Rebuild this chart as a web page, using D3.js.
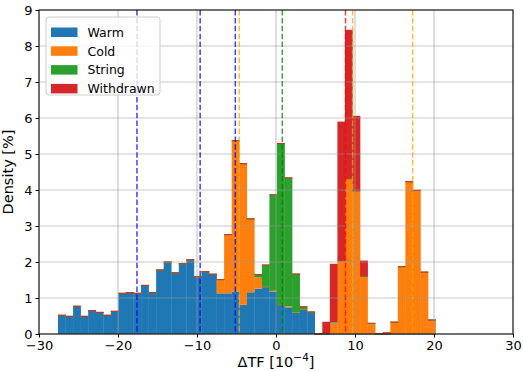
<!DOCTYPE html>
<html>
<head>
<meta charset="utf-8">
<script src="https://cdn.jsdelivr.net/npm/d3@7"></script>
<style>
  body { margin: 0; background: #fff; }
  svg { font-family: "DejaVu Sans", sans-serif; }
</style>
</head>
<body>
<script>

// stacked histogram data, 50 bins (density %)
var binStart = -27.6;
var binWidth = 0.956;

var warm = [0.52, 0.49, 0.77, 0.49, 0.65, 0.60, 0.52, 0.63, 1.13, 1.15,
            1.13, 1.35, 1.15, 1.78, 2.00, 1.70, 1.95, 2.06, 1.59, 1.73,
            1.66, 1.13, 1.13, 1.18, 0.81, 1.16, 1.26, 1.31, 1.17, 0.81,
            0.74, 0.60, 0.68, 0.61, 0, 0, 0, 0, 0, 0,
            0, 0, 0, 0, 0, 0, 0, 0, 0, 0];
var cold = [0, 0, 0, 0, 0, 0, 0, 0, 0, 0,
            0, 0, 0, 0, 0, 0, 0, 0, 0, 0,
            0, 0.38, 1.63, 4.19, 3.92, 2.04, 0.31, 0, 0.03, 0,
            0.03, 0, 0, 0, 0, 0, 0.29, 2.03, 4.31, 3.97,
            1.60, 0.27, 0, 0, 0.33, 1.87, 4.23, 3.99, 1.72, 0.39];
var string = [0, 0, 0, 0, 0, 0, 0, 0, 0, 0,
              0, 0, 0, 0, 0, 0, 0, 0, 0, 0,
              0, 0, 0, 0, 0, 0, 0.08, 0.61, 2.67, 4.48,
              3.57, 1.07, 0.08, 0, 0, 0, 0.03, 0, 0, 0,
              0, 0.03, 0, 0, 0, 0, 0, 0, 0, 0];
var withdrawn = [0, 0, 0, 0, 0, 0, 0, 0, 0, 0,
                 0, 0, 0, 0, 0, 0, 0, 0, 0, 0,
                 0, 0, 0, 0, 0, 0, 0, 0, 0, 0,
                 0, 0, 0, 0, 0, 0.34, 1.63, 3.87, 4.14, 2.09,
                 0.44, 0, 0, 0.05, 0, 0, 0, 0, 0, 0];

var seriesNames = ["Warm", "Cold", "String", "Withdrawn"];
var seriesColors = ["#1f77b4", "#ff7f0e", "#2ca02c", "#d62728"];

// mean lines
var meanValues = [-17.6, -9.6, -5.15, -4.65, 9.7, 17.3, 0.8, 8.8];
var meanColors = ["blue", "blue", "blue", "orange", "orange", "orange", "green", "red"];

var xTicks = [-30, -20, -10, 0, 10, 20, 30];
var yTicks = [0, 1, 2, 3, 4, 5, 6, 7, 8, 9];

var margin = {top: 10, right: 10, bottom: 37, left: 39};
var W = 523, H = 371;
var width = W - margin.left - margin.right,
    height = H - margin.top - margin.bottom;

var x = d3.scaleLinear().domain([-30, 30]).range([0, width]);
var y = d3.scaleLinear().domain([0, 9]).range([height, 0]);

var svg = d3.select("body").append("svg")
    .attr("width", W)
    .attr("height", H)
  .append("g")
    .attr("transform", "translate(" + margin.left + "," + margin.top + ")");

// stack the bins
var rows = warm.map(function(d, i) {
  return {i: i, Warm: warm[i], Cold: cold[i], String: string[i], Withdrawn: withdrawn[i]};
});
var stack = d3.stack().keys(seriesNames)(rows);

stack.forEach(function(layer, k) {
  svg.append("g")
    .selectAll("rect")
    .data(layer)
    .enter()
    .append("rect")
      .attr("x", function(d) { return x(binStart + d.data.i * binWidth); })
      .attr("width", function(d) { return x(binStart + (d.data.i + 1) * binWidth) - x(binStart + d.data.i * binWidth) + 0.3; })
      .attr("y", function(d) {
        var h = y(d[0]) - y(d[1]);
        return h < 1 ? y(d[1]) - 0.5 : y(d[1]);
      })
      .attr("height", function(d) { return Math.max(y(d[0]) - y(d[1]), 1); })
      .style("fill", seriesColors[k]);
});

// grid on top of bars
svg.append("g")
  .selectAll("line")
  .data(xTicks)
  .enter().append("line")
    .attr("x1", function(d) { return x(d); })
    .attr("x2", function(d) { return x(d); })
    .attr("y1", 0).attr("y2", height)
    .style("stroke", "#999").style("stroke-opacity", 0.55).style("stroke-width", 1.2);
svg.append("g")
  .selectAll("line")
  .data(yTicks)
  .enter().append("line")
    .attr("y1", function(d) { return y(d); })
    .attr("y2", function(d) { return y(d); })
    .attr("x1", 0).attr("x2", width)
    .style("stroke", "#999").style("stroke-opacity", 0.55).style("stroke-width", 1.2);

// dashed mean lines
svg.append("g")
  .selectAll("line")
  .data(meanValues)
  .enter().append("line")
    .attr("x1", function(d) { return x(d); })
    .attr("x2", function(d) { return x(d); })
    .attr("y1", 0).attr("y2", height)
    .style("stroke", function(d, i) { return meanColors[i]; })
    .style("stroke-opacity", 0.75)
    .style("stroke-width", 1.5)
    .style("stroke-dasharray", "5.5,2.4");

// axes
var xAxis = svg.append("g")
    .attr("transform", "translate(0," + height + ")")
    .call(d3.axisBottom(x).tickValues(xTicks).tickSize(3.5).tickPadding(3)
      .tickFormat(function(d) { return d < 0 ? "\u2212" + Math.abs(d) : d; }));
var yAxis = svg.append("g")
    .call(d3.axisLeft(y).tickValues(yTicks).tickSize(3.5).tickPadding(3));

[xAxis, yAxis].forEach(function(a) {
  a.select(".domain").remove();
  a.selectAll("text").style("font-size", "13px").style("fill", "#000").style("font-family", "DejaVu Sans");
  a.selectAll("line").style("stroke", "#000");
});

// frame
svg.append("rect")
    .attr("width", width).attr("height", height)
    .style("fill", "none").style("stroke", "#000").style("stroke-width", 1);

// axis labels
svg.append("text")
    .attr("transform", "translate(" + (-26) + "," + (height / 2) + ") rotate(-90)")
    .style("text-anchor", "middle")
    .style("font-size", "14.5px")
    .text("Density [%]");

var xl = svg.append("text")
    .attr("x", width / 2)
    .attr("y", height + 33)
    .style("text-anchor", "middle")
    .style("font-size", "14.5px");
xl.append("tspan").text("\u0394TF [10");
xl.append("tspan").attr("dy", -6).style("font-size", "10.5px").text("\u22124");
xl.append("tspan").attr("dy", 6).text("]");

// legend
var legend = svg.append("g").attr("transform", "translate(7,7)");
legend.append("rect")
    .attr("width", 114).attr("height", 78)
    .attr("rx", 3)
    .style("fill", "#fff").style("fill-opacity", 0.8)
    .style("stroke", "#ccc").style("stroke-width", 1);

var items = legend.selectAll("g.item")
    .data(seriesNames)
    .enter().append("g")
      .attr("class", "item")
      .attr("transform", function(d, i) { return "translate(0," + (10.5 + i * 18.8) + ")"; });
items.append("rect")
    .attr("x", 5).attr("width", 26.5).attr("height", 9.5)
    .style("fill", function(d, i) { return seriesColors[i]; });
items.append("text")
    .attr("x", 41.5).attr("y", 9.3)
    .style("font-size", "12.5px")
    .text(function(d) { return d; });

</script>
</body>
</html>
